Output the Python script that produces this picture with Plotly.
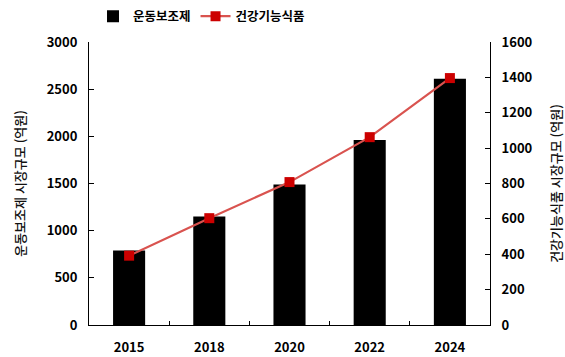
import plotly.graph_objects as go

years = ["2015", "2018", "2020", "2022", "2024"]
exercise_supp = [790, 1150, 1490, 1960, 2610]
health_food = [392, 604, 808, 1062, 1396]

FONT = "Noto Sans CJK KR"

fig = go.Figure()
fig.add_trace(go.Bar(
    x=years, y=exercise_supp, name="운동보조제",
    marker=dict(color="black", line=dict(width=0)), width=0.4,
    yaxis="y",
))
fig.add_trace(go.Scatter(
    x=years, y=health_food, name="건강기능식품", mode="lines+markers",
    line=dict(color="#d9534f", width=2.2),
    marker=dict(symbol="square", size=10, color="#cc0000"),
    yaxis="y2",
))

fig.update_layout(
    width=565, height=357,
    margin=dict(l=89, r=75, t=42, b=32, autoexpand=False),
    paper_bgcolor="white", plot_bgcolor="white",
    font=dict(family=FONT, color="black"),
    showlegend=True,
    legend=dict(orientation="h", x=0.01, xanchor="left", y=1.09, yanchor="middle",
                font=dict(size=12.5, family=FONT, weight="bold"), bgcolor="rgba(0,0,0,0)",
                itemwidth=30, tracegroupgap=0),
    xaxis=dict(
        type="category", showline=True, linecolor="black", linewidth=1,
        ticks="inside", tickson="boundaries", ticklen=4, tickcolor="black",
        tickfont=dict(size=13, family=FONT, weight="bold"),
        ticklabelstandoff=10, automargin=False,
        showgrid=False, mirror=False,
    ),
    yaxis=dict(
        range=[0, 3000], tickvals=[0, 500, 1000, 1500, 2000, 2500, 3000],
        showline=True, linecolor="black", linewidth=1,
        ticks="inside", ticklen=5, tickcolor="black",
        tickfont=dict(size=13, family=FONT, weight="bold"),
        ticklabelstandoff=8, automargin=False,
        showgrid=False, zeroline=False,
        title=dict(text="운동보조제 시장규모 (억원)", font=dict(size=13, family=FONT, color="#111", weight=500), standoff=18),
    ),
    yaxis2=dict(
        range=[0, 1600], tickvals=[0, 200, 400, 600, 800, 1000, 1200, 1400, 1600],
        overlaying="y", side="right",
        showline=True, linecolor="black", linewidth=1,
        ticks="inside", ticklen=5, tickcolor="black",
        tickfont=dict(size=13, family=FONT, weight="bold"),
        ticklabelstandoff=8, automargin=False,
        showgrid=False, zeroline=False,
        title=dict(text="건강기능식품 시장규모 (억원)", font=dict(size=13, family=FONT, color="#111", weight=500), standoff=22),
    ),
    bargap=0.6,
)

fig.write_html("out.html")
